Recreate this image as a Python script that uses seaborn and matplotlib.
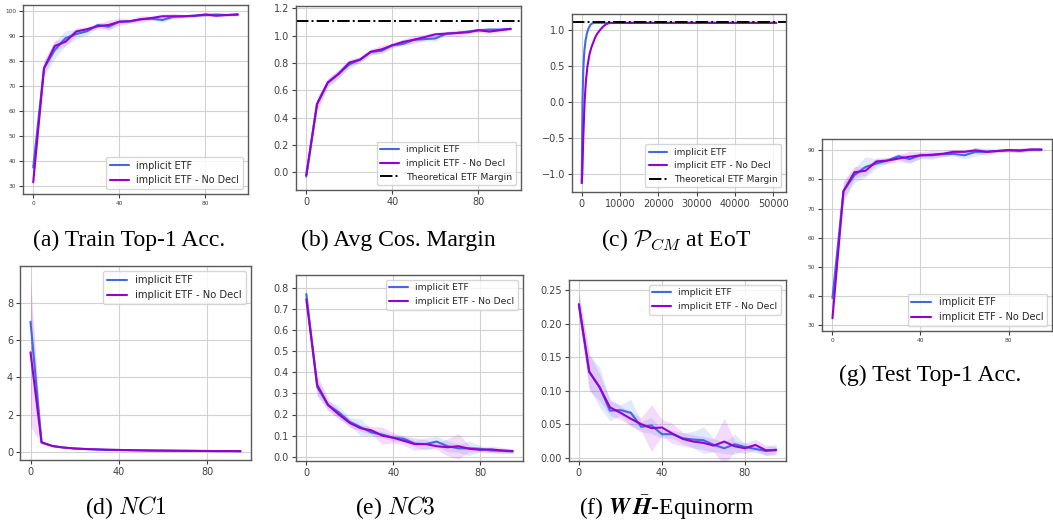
import numpy as np
import pandas as pd
import matplotlib
matplotlib.use("Agg")
import matplotlib.pyplot as plt
import seaborn as sns

# ---------------------------------------------------------------- data
EPOCHS = np.array([0, 5, 10, 15, 20, 25, 30, 35, 40, 45,
                   50, 55, 60, 65, 70, 75, 80, 85, 90, 95])

LABEL_ETF = "implicit ETF"
LABEL_NODECL = "implicit ETF - No Decl"
LABEL_MARGIN = "Theoretical ETF Margin"
ETF_MARGIN = 1.111  # 1 + 1/(K-1) for K = 10 classes

# (a) train top-1 accuracy
train_acc_etf = [37.4, 77.2, 84.5, 89.2, 90.9, 92.0, 94.5, 93.8, 95.8, 96.0,
                 96.8, 97.0, 96.5, 97.8, 98.0, 98.2, 98.5, 98.7, 98.5, 98.5]
train_acc_etf_sd = [1.5, 3.0, 3.5, 3.0, 2.0, 1.5, 1.0, 1.2, 0.8, 0.7,
                    0.6, 0.6, 1.0, 0.6, 0.5, 0.5, 0.5, 0.5, 0.5, 0.5]
train_acc_nodecl = [31.5, 77.2, 86.1, 87.8, 91.9, 92.8, 94.0, 94.5, 95.8, 96.0,
                    96.8, 97.3, 98.0, 98.0, 98.0, 98.2, 98.7, 98.2, 98.5, 98.8]
train_acc_nodecl_sd = [1.5, 3.0, 2.0, 1.5, 1.5, 1.0, 1.0, 2.0, 1.5, 0.8,
                       1.5, 0.8, 0.8, 1.2, 0.6, 0.5, 0.8, 0.5, 0.5, 0.4]

# (b) average cosine margin
margin_etf = [-0.03, 0.50, 0.655, 0.72, 0.79, 0.825, 0.88, 0.89, 0.93, 0.94,
              0.97, 0.975, 0.98, 1.015, 1.02, 1.03, 1.04, 1.045, 1.045, 1.05]
margin_etf_sd = [0.02, 0.04, 0.03, 0.03, 0.03, 0.02, 0.02, 0.015, 0.015, 0.015,
                 0.015, 0.015, 0.02, 0.01, 0.01, 0.01, 0.01, 0.01, 0.01, 0.01]
margin_nodecl = [-0.02, 0.50, 0.658, 0.721, 0.803, 0.825, 0.883, 0.90, 0.93, 0.955,
                 0.97, 0.99, 1.01, 1.015, 1.02, 1.025, 1.04, 1.03, 1.04, 1.05]
margin_nodecl_sd = [0.03, 0.05, 0.03, 0.03, 0.025, 0.02, 0.02, 0.03, 0.02, 0.02,
                    0.03, 0.02, 0.015, 0.015, 0.025, 0.015, 0.015, 0.015, 0.015, 0.01]

# (c) P_CM at end of training, per iteration
pcm_iter_etf = [0, 100, 200, 350, 500, 700, 1000, 1400, 1800, 2300, 2800, 3500, 50800]
pcm_etf = [-1.13, -0.5, 0.0, 0.35, 0.55, 0.72, 0.86, 0.97, 1.03, 1.08, 1.10, 1.105, 1.105]
pcm_iter_nodecl = [0, 150, 400, 750, 1100, 1500, 2000, 2500, 3000, 3500, 4000,
                   4700, 5500, 6300, 7000, 8000, 50800]
pcm_nodecl = [-1.13, -1.0, -0.5, 0.0, 0.3, 0.5, 0.66, 0.76, 0.83, 0.90, 0.95,
              1.0, 1.05, 1.085, 1.10, 1.105, 1.105]

# (d) NC1
nc1_etf = [7.0, 0.5, 0.3, 0.22, 0.17, 0.14, 0.12, 0.10, 0.09, 0.08,
           0.07, 0.06, 0.055, 0.05, 0.045, 0.04, 0.035, 0.03, 0.03, 0.025]
nc1_etf_sd = [1.5, 0.08, 0.03, 0.02, 0.02, 0.02, 0.02, 0.02, 0.02, 0.02,
              0.02, 0.02, 0.02, 0.02, 0.02, 0.02, 0.02, 0.02, 0.02, 0.02]
nc1_nodecl = [5.35, 0.5, 0.3, 0.22, 0.17, 0.14, 0.12, 0.10, 0.09, 0.08,
              0.07, 0.06, 0.055, 0.05, 0.045, 0.04, 0.035, 0.03, 0.03, 0.025]
nc1_nodecl_sd = [4.0, 0.08, 0.03, 0.02, 0.02, 0.02, 0.02, 0.02, 0.02, 0.02,
                 0.02, 0.02, 0.02, 0.02, 0.02, 0.02, 0.02, 0.02, 0.02, 0.02]

# (e) NC3
nc3_etf = [0.77, 0.33, 0.245, 0.21, 0.165, 0.14, 0.115, 0.105, 0.09, 0.085,
           0.062, 0.06, 0.072, 0.05, 0.04, 0.04, 0.038, 0.03, 0.028, 0.025]
nc3_etf_sd = [0.02, 0.04, 0.02, 0.03, 0.02, 0.04, 0.015, 0.015, 0.015, 0.015,
              0.015, 0.03, 0.025, 0.025, 0.02, 0.035, 0.015, 0.01, 0.01, 0.008]
nc3_nodecl = [0.745, 0.34, 0.245, 0.20, 0.16, 0.135, 0.125, 0.10, 0.09, 0.075,
              0.06, 0.06, 0.05, 0.045, 0.05, 0.038, 0.033, 0.035, 0.03, 0.027]
nc3_nodecl_sd = [0.03, 0.05, 0.03, 0.02, 0.02, 0.015, 0.02, 0.04, 0.025, 0.02,
                 0.03, 0.02, 0.015, 0.04, 0.06, 0.015, 0.01, 0.015, 0.015, 0.01]

# (f) W H-bar equinorm
equi_etf = [0.228, 0.128, 0.105, 0.07, 0.071, 0.067, 0.046, 0.048, 0.035, 0.035,
            0.029, 0.027, 0.026, 0.019, 0.014, 0.02, 0.016, 0.013, 0.010, 0.012]
equi_etf_sd = [0.02, 0.025, 0.03, 0.015, 0.008, 0.02, 0.008, 0.012, 0.006, 0.006,
               0.008, 0.012, 0.02, 0.01, 0.008, 0.015, 0.005, 0.006, 0.006, 0.008]
equi_nodecl = [0.229, 0.128, 0.105, 0.075, 0.067, 0.058, 0.05, 0.044, 0.045, 0.036,
               0.028, 0.024, 0.022, 0.018, 0.024, 0.017, 0.014, 0.019, 0.011, 0.011]
equi_nodecl_sd = [0.015, 0.028, 0.02, 0.012, 0.01, 0.01, 0.01, 0.035, 0.012, 0.015,
                  0.01, 0.01, 0.01, 0.01, 0.035, 0.008, 0.008, 0.008, 0.008, 0.005]

# (g) test top-1 accuracy
test_acc_etf = [39.3, 76.0, 81.5, 84.3, 85.5, 86.5, 88.0, 87.0, 88.3, 88.3,
                88.7, 88.8, 88.3, 89.5, 89.5, 89.8, 90.0, 89.8, 90.2, 90.2]
test_acc_etf_sd = [2.0, 3.0, 2.5, 3.5, 1.5, 1.0, 1.0, 1.5, 1.0, 0.8,
                   0.8, 0.8, 1.2, 1.5, 0.6, 0.5, 0.5, 0.5, 0.5, 0.5]
test_acc_nodecl = [32.4, 76.0, 82.5, 83.0, 86.2, 86.5, 87.2, 87.8, 88.3, 88.5,
                   88.8, 89.5, 89.5, 90.0, 89.5, 89.8, 90.1, 90.0, 90.3, 90.3]
test_acc_nodecl_sd = [1.5, 3.5, 2.0, 1.5, 1.2, 1.0, 1.0, 2.0, 1.2, 1.5,
                      1.0, 0.8, 0.8, 1.0, 1.2, 0.6, 0.6, 0.8, 0.6, 0.5]

# ---------------------------------------------------------------- style
BLUE = "#4169e1"
PURPLE = "#9400d3"
BLUE_BAND = "#4a78f0"
PURPLE_BAND = "#c425e0"

sns.set_theme(style="whitegrid", rc={
    "axes.edgecolor": "0.35",
    "axes.linewidth": 1.0,
    "grid.color": "0.82",
    "grid.linewidth": 0.8,
    "xtick.bottom": True,
    "ytick.left": True,
    "xtick.color": "0.25",
    "ytick.color": "0.25",
    "xtick.major.size": 3,
    "ytick.major.size": 3,
    "xtick.major.width": 0.8,
    "ytick.major.width": 0.8,
    "legend.framealpha": 0.8,
    "legend.edgecolor": "0.8",
    "legend.fancybox": True,
})
plt.rcParams["font.family"] = ["DejaVu Sans"]
plt.rcParams["axes.unicode_minus"] = True

fig = plt.figure(figsize=(10.53, 5.25), dpi=100)
W, H = 1053.0, 525.0


def add_axes(x0, y0, x1, y1):
    return fig.add_axes([x0 / W, 1 - y1 / H, (x1 - x0) / W, (y1 - y0) / H])


def draw_pair(ax, mean_a, sd_a, mean_b, sd_b, lw=1.5):
    for mean, sd, color, band, label in (
        (mean_a, sd_a, BLUE, BLUE_BAND, LABEL_ETF),
        (mean_b, sd_b, PURPLE, PURPLE_BAND, LABEL_NODECL),
    ):
        mean = np.asarray(mean, dtype=float)
        sd = np.asarray(sd, dtype=float)
        ax.fill_between(EPOCHS, mean - sd, mean + sd, color=band,
                        alpha=0.16, linewidth=0)
        df = pd.DataFrame({"epoch": EPOCHS, "value": mean})
        sns.lineplot(data=df, x="epoch", y="value", ax=ax, color=color,
                     linewidth=lw, label=label)


def finish(ax, ylim, yticks, tick_fs, legend_fs, loc, xlim=(-4.75, 99.75),
           xticks=(0, 40, 80)):
    ax.set_xlim(*xlim)
    ax.set_ylim(*ylim)
    ax.set_xticks(list(xticks))
    ax.set_yticks(list(yticks))
    ax.set_xlabel("")
    ax.set_ylabel("")
    ax.tick_params(labelsize=tick_fs, pad=2)
    ax.legend(loc=loc, fontsize=legend_fs, frameon=True)


def caption(x, y, text, math_family="cm"):
    fig.text(x / W, 1 - y / H, text, ha="center", va="center",
             fontsize=17, family="Liberation Serif",
             math_fontfamily=math_family, color="black")


# (a) Train Top-1 Acc.
ax_a = add_axes(23, 5, 248, 194)
draw_pair(ax_a, train_acc_etf, train_acc_etf_sd, train_acc_nodecl, train_acc_nodecl_sd)
finish(ax_a, (26.8, 102.5), range(30, 101, 10), 4.2, 6.9, "lower right")

# (b) Avg Cos. Margin
ax_b = add_axes(296, 6, 521, 190)
draw_pair(ax_b, margin_etf, margin_etf_sd, margin_nodecl, margin_nodecl_sd)
ax_b.axhline(ETF_MARGIN, color="black", linestyle="-.", linewidth=1.4,
             label=LABEL_MARGIN)
finish(ax_b, (-0.128, 1.217), [0.0, 0.2, 0.4, 0.6, 0.8, 1.0, 1.2], 7, 6.7,
       "lower right")

# (c) P_CM at EoT
ax_c = add_axes(572, 14, 786, 192)
sns.lineplot(x=pcm_iter_etf, y=pcm_etf, ax=ax_c, color=BLUE, linewidth=1.5,
             label=LABEL_ETF)
sns.lineplot(x=pcm_iter_nodecl, y=pcm_nodecl, ax=ax_c, color=PURPLE,
             linewidth=1.5, label=LABEL_NODECL)
ax_c.axhline(ETF_MARGIN, color="black", linestyle="-.", linewidth=1.4,
             label=LABEL_MARGIN)
finish(ax_c, (-1.255, 1.229), [-1.0, -0.5, 0.0, 0.5, 1.0], 7, 6.5,
       "lower right", xlim=(-2540, 53340),
       xticks=(0, 10000, 20000, 30000, 40000, 50000))

# (g) Test Top-1 Acc.
ax_g = add_axes(822, 139, 1052, 331)
draw_pair(ax_g, test_acc_etf, test_acc_etf_sd, test_acc_nodecl, test_acc_nodecl_sd)
finish(ax_g, (28.0, 93.9), range(30, 91, 10), 4.2, 7.0, "lower right")

# (d) NC1
ax_d = add_axes(20, 266, 251, 460)
draw_pair(ax_d, nc1_etf, nc1_etf_sd, nc1_nodecl, nc1_nodecl_sd)
finish(ax_d, (-0.45, 10.0), [0, 2, 4, 6, 8], 7, 7.2, "upper right")

# (e) NC3
ax_e = add_axes(296, 275, 523, 461)
draw_pair(ax_e, nc3_etf, nc3_etf_sd, nc3_nodecl, nc3_nodecl_sd)
finish(ax_e, (-0.02, 0.86), [0.0, 0.1, 0.2, 0.3, 0.4, 0.5, 0.6, 0.7, 0.8],
       7, 6.7, "upper right")

# (f) W H-bar equinorm
ax_f = add_axes(569, 280, 786, 461)
draw_pair(ax_f, equi_etf, equi_etf_sd, equi_nodecl, equi_nodecl_sd)
finish(ax_f, (-0.005, 0.265), [0.0, 0.05, 0.10, 0.15, 0.20, 0.25], 7, 6.7,
       "upper right")
ax_f.yaxis.set_major_formatter(matplotlib.ticker.FormatStrFormatter("%.2f"))

# sub-figure captions
caption(129, 240, "(a) Train Top-1 Acc.")
caption(398, 240, "(b) Avg Cos. Margin")
caption(676, 240, r"(c) $\mathcal{P}_{CM}$ at EoT")
caption(126, 508, r"(d) $NC1$")
caption(395, 508, r"(e) $NC3$")
caption(667, 508, r"(f) $\mathbfit{W}\,\bar{\mathbfit{H}}$-Equinorm", math_family="stix")
caption(930, 375, "(g) Test Top-1 Acc.")

fig.savefig("out.png", dpi=100)
